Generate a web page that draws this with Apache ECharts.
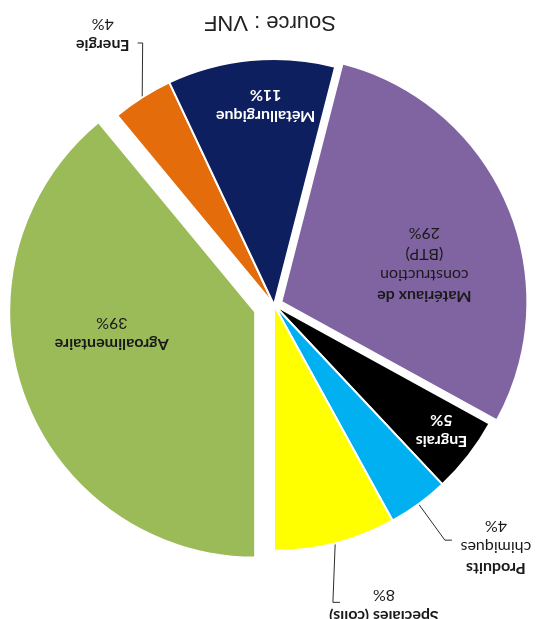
<!DOCTYPE html>
<html>
<head>
<meta charset="utf-8">
<title>Trafic fluvial par filière</title>
<script src="https://cdn.jsdelivr.net/npm/echarts@6/dist/echarts.min.js"></script>
<style>
  html, body { margin: 0; padding: 0; background: #fff; }
  /* la source est retournée à 180° : on dessine à l'endroit puis on retourne */
  #chart { width: 540px; height: 619px; transform: rotate(180deg); }
</style>
</head>
<body>
<div id="chart"></div>
<script>
// données
const categories = ['Agroalimentaire', 'Energie', 'Métallurgique', 'Matériaux de\nconstruction\n(BTP)', 'Engrais', 'Produits\nchimiques', 'Spéciales (colis)']
const shares = [39, 4, 11, 29, 5, 4, 8]

// styles
const sliceColors = ['#9bbb59', '#e46c0a', '#0d1f5e', '#8064a2', '#000000', '#00b0f0', '#ffff00']
const textColors = ['#1a1a1a', '#1a1a1a', '#ffffff', '#1a1a1a', '#ffffff', '#1a1a1a', '#1a1a1a']
const outside = [false, true, false, false, false, true, true]
const explode = [20, 0, 0, 8, 0, 0, 0] // px
// placement des étiquettes : [rayon relatif, décalage angulaire en degrés]
const labelPolar = [[0.59, 11], [1.3, 0], [0.81, 3], [0.6, 9], [0.85, -1], [1.335, -6.5], [1.3, -5.7]]
// coude / fin du trait de rappel, relatifs au centre de l'étiquette
const guideOffsets = { 1: [[-40, -8], [-35, -8]], 5: [[51, 7], [44, 7]], 6: [[51, 3], [44, 3]] }

const cx = 266, cy = 314, radius = 246
const total = shares.reduce((a, b) => a + b, 0)

function midAngle(i) {
  let before = 0
  for (let k = 0; k < i; k++) before += shares[k]
  return ((before + shares[i] / 2) / total) * 360
}

// angle compté depuis midi, sens horaire
function polar(deg, dist) {
  const a = (deg * Math.PI) / 180
  return [Math.sin(a) * dist, -Math.cos(a) * dist]
}

function labelFormatter(p) {
  const strong = textColors[p.dataIndex] === '#ffffff'
  const lines = p.name.split('\n').map((l, k) => (k === 0 || strong ? '{b|' + l + '}' : '{n|' + l + '}'))
  lines.push((strong ? '{b|' : '{n|') + p.value + '%}')
  return lines.join('\n')
}

function layoutLabel(params, center) {
  const i = params.dataIndex
  const [k, shift] = labelPolar[i]
  const p = polar(midAngle(i) + shift, k * radius)
  const x = center[0] + p[0]
  const y = center[1] + p[1]
  const res = { x: x, y: y, align: 'center', verticalAlign: 'middle' }
  const g = guideOffsets[i]
  if (g && params.labelLinePoints) {
    res.labelLinePoints = [
      params.labelLinePoints[0],
      [x + g[0][0], y + g[0][1]],
      [x + g[1][0], y + g[1][1]],
    ]
  }
  return res
}

// une série par groupe de parts (les parts détachées ont leur propre centre)
function makeSeries(show, dist, angle) {
  const off = polar(angle, dist)
  const center = [cx + off[0], cy + off[1]]
  return {
    type: 'pie',
    center: center,
    radius: radius,
    startAngle: 90,
    clockwise: true,
    avoidLabelOverlap: false,
    silent: true,
    animation: false,
    data: categories.map((name, i) => ({
      name: name,
      value: shares[i],
      itemStyle: show(i)
        ? { color: sliceColors[i], borderColor: '#ffffff', borderWidth: 2 }
        : { color: 'rgba(0,0,0,0)', borderWidth: 0 },
      label: {
        show: show(i),
        position: outside[i] ? 'outside' : 'inside',
        formatter: labelFormatter,
        rich: {
          b: { fontFamily: 'Lato', fontSize: 16, fontWeight: 'bold', lineHeight: 21, color: textColors[i] },
          n: { fontFamily: 'Lato', fontSize: 16, fontWeight: 'normal', lineHeight: 21, color: textColors[i] },
        },
      },
      labelLine: {
        show: show(i) && outside[i],
        lineStyle: { color: '#2b2b2b', width: 1 },
      },
    })),
    labelLayout: (params) => layoutLabel(params, center),
  }
}

const series = [makeSeries((i) => explode[i] === 0, 0, 0)]
explode.forEach((d, j) => {
  if (d > 0) series.push(makeSeries((i) => i === j, d, midAngle(j)))
})

const chart = echarts.init(document.getElementById('chart'), null, { renderer: 'canvas' })
chart.setOption({
  backgroundColor: '#ffffff',
  title: {
    text: 'Source : VNF',
    left: 'center',
    top: 586,
    padding: 0,
    textStyle: { fontFamily: 'Liberation Sans', fontSize: 22, fontWeight: 'normal', color: '#222222' },
  },
  series: series,
})
</script>
</body>
</html>
